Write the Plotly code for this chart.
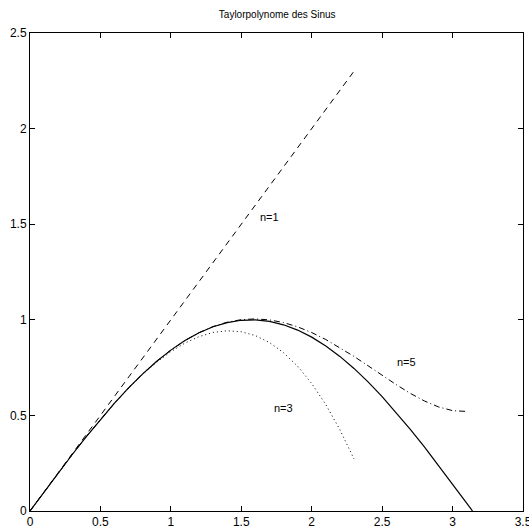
import plotly.graph_objects as go

# sample positions
x_sin = [0.0, 0.1, 0.2, 0.3, 0.4, 0.5, 0.6, 0.7, 0.8, 0.9, 1.0, 1.1, 1.2, 1.3, 1.4, 1.5,
         1.6, 1.7, 1.8, 1.9, 2.0, 2.1, 2.2, 2.3, 2.4, 2.5, 2.6, 2.7, 2.8, 2.9, 3.0, 3.1, 3.1416]
y_sin = [0.0, 0.0998, 0.1987, 0.2955, 0.3894, 0.4794, 0.5646, 0.6442, 0.7174, 0.7833,
         0.8415, 0.8912, 0.9320, 0.9636, 0.9854, 0.9975, 0.9996, 0.9917, 0.9738, 0.9463,
         0.9093, 0.8632, 0.8085, 0.7457, 0.6755, 0.5985, 0.5155, 0.4274, 0.3350, 0.2392,
         0.1411, 0.0416, 0.0]

x_n1 = [0.0, 2.3]
y_n1 = [0.0, 2.3]

x_n3 = [0.0, 0.1, 0.2, 0.3, 0.4, 0.5, 0.6, 0.7, 0.8, 0.9, 1.0, 1.1, 1.2, 1.3, 1.4, 1.5,
        1.6, 1.7, 1.8, 1.9, 2.0, 2.1, 2.2, 2.3]
y_n3 = [0.0, 0.0998, 0.1987, 0.2955, 0.3893, 0.4792, 0.5640, 0.6428, 0.7147, 0.7785,
        0.8333, 0.8782, 0.9120, 0.9338, 0.9427, 0.9375, 0.9173, 0.8812, 0.8280, 0.7568,
        0.6667, 0.5565, 0.4253, 0.2722]

x_n5 = [0.0, 0.1, 0.2, 0.3, 0.4, 0.5, 0.6, 0.7, 0.8, 0.9, 1.0, 1.1, 1.2, 1.3, 1.4, 1.5,
        1.6, 1.7, 1.8, 1.9, 2.0, 2.1, 2.2, 2.3, 2.4, 2.5, 2.6, 2.7, 2.8, 2.9, 3.0, 3.1]
y_n5 = [0.0, 0.0998, 0.1987, 0.2955, 0.3894, 0.4794, 0.5646, 0.6442, 0.7174, 0.7834,
        0.8417, 0.8916, 0.9327, 0.9648, 0.9875, 1.0008, 1.0047, 0.9995, 0.9855, 0.9631,
        0.9333, 0.8968, 0.8548, 0.8086, 0.7596, 0.7096, 0.6608, 0.6152, 0.5755, 0.5444,
        0.5250, 0.5206]

labels = ["n=1", "n=3", "n=5"]
label_x = [1.70, 1.80, 2.67]
label_y = [1.54, 0.54, 0.78]

x_ticks = [0, 0.5, 1, 1.5, 2, 2.5, 3, 3.5]
x_ticktext = ["0", "0.5", "1", "1.5", "2", "2.5", "3", "3.5"]
y_ticks = [0, 0.5, 1, 1.5, 2, 2.5]
y_ticktext = ["0", "0.5", "1", "1.5", "2", "2.5"]

title = "Taylorpolynome des Sinus"

fig = go.Figure()
fig.add_trace(go.Scatter(x=x_sin, y=y_sin, mode="lines",
                         line=dict(color="black", width=1.2)))
fig.add_trace(go.Scatter(x=x_n1, y=y_n1, mode="lines",
                         line=dict(color="black", width=1, dash="6px,5px")))
fig.add_trace(go.Scatter(x=x_n3, y=y_n3, mode="lines",
                         line=dict(color="black", width=1, dash="1px,3px")))
fig.add_trace(go.Scatter(x=x_n5, y=y_n5, mode="lines",
                         line=dict(color="black", width=1, dash="6px,3px,1px,3px")))

for t, lx, ly in zip(labels, label_x, label_y):
    fig.add_annotation(x=lx, y=ly, text=t, showarrow=False,
                       font=dict(family="Liberation Sans, Arial", size=11, color="black"))

axis_common = dict(showgrid=False, zeroline=False, showline=True, linecolor="black",
                   linewidth=1, mirror="ticks", ticks="inside", ticklen=5,
                   tickcolor="black", tickwidth=1, ticklabeloverflow="allow",
                   automargin=False,
                   tickfont=dict(family="Liberation Sans, Arial", size=12, color="black"))

fig.update_layout(
    width=529, height=528,
    margin=dict(l=30, r=6, t=33, b=17),
    paper_bgcolor="white", plot_bgcolor="white",
    showlegend=False,
    title=dict(text=title, x=0.524, xanchor="center", y=0.972, yanchor="middle",
               font=dict(family="Liberation Sans, Arial", size=10, color="black")),
    xaxis=dict(range=[0, 3.5], tickvals=x_ticks, ticktext=x_ticktext, **axis_common),
    yaxis=dict(range=[0, 2.5], tickvals=y_ticks, ticktext=y_ticktext, **axis_common),
)

fig.write_html("out.html")
